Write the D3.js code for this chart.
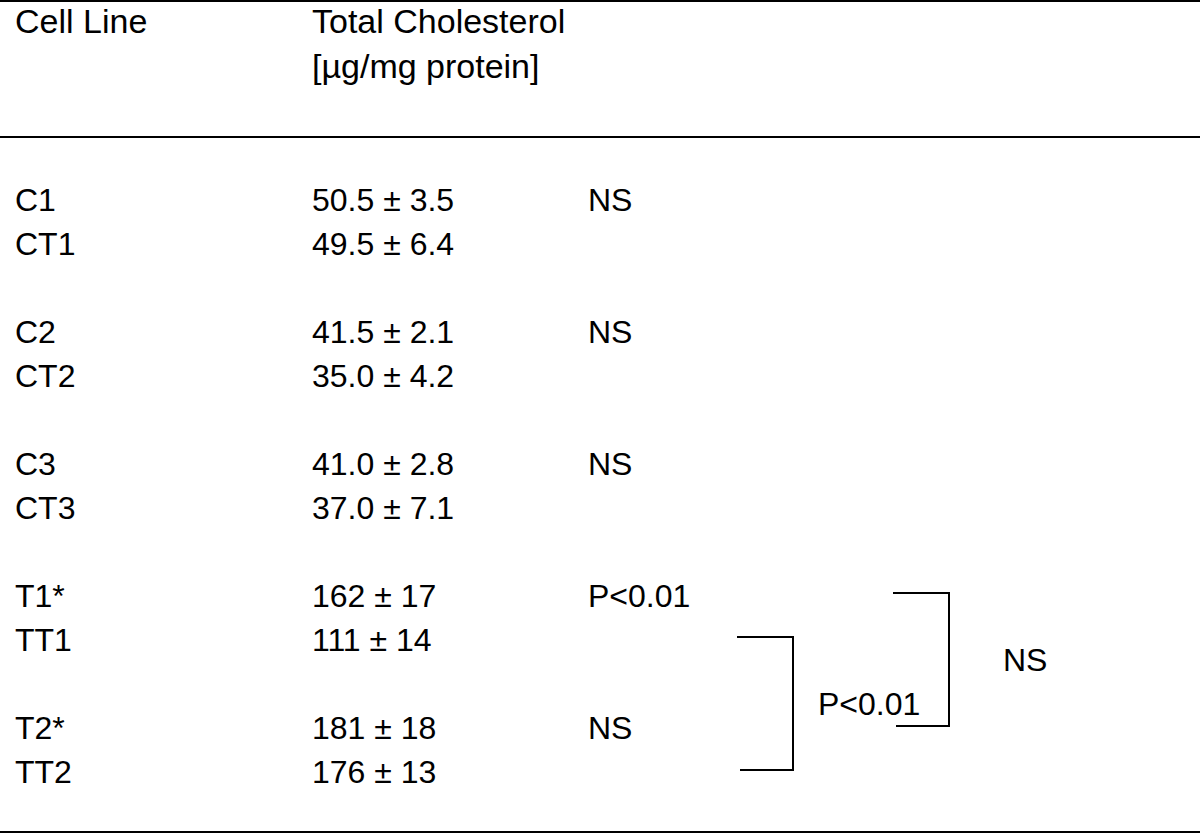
<!DOCTYPE html>
<html>
<head>
<meta charset="utf-8">
<script src="https://cdn.jsdelivr.net/npm/d3@7"></script>
<style>
  body { margin: 0; background: #fff; }
  text { font-family: "Liberation Sans", Arial, sans-serif; fill: #000; }
</style>
</head>
<body>
<div id="chart"></div>
<script>
const headers = ["Cell Line", "Total Cholesterol", "[µg/mg protein]"];
const cellLines = ["C1", "CT1", "C2", "CT2", "C3", "CT3", "T1*", "TT1", "T2*", "TT2"];
const means = ["50.5", "49.5", "41.5", "35.0", "41.0", "37.0", "162", "111", "181", "176"];
const sds = ["3.5", "6.4", "2.1", "4.2", "2.8", "7.1", "17", "14", "18", "13"];
// row slot of each line (blank slot between each pair)
const slots = [0, 1, 3, 4, 6, 7, 9, 10, 12, 13];
const pairNotes = ["NS", "NS", "NS", "P<0.01", "NS"];
const pairSlots = [0, 3, 6, 9, 12];
// comparisons across pairs: rows joined by a bracket
const compFrom = ["TT1", "T1*"];
const compTo = ["TT2", "T2*"];
const compLabels = ["P<0.01", "NS"];

const width = 1200;
const height = 834;
const fontSize = 32;
const headSize = 34;

const svg = d3.select("#chart")
  .append("svg")
  .attr("width", width)
  .attr("height", height)
  .attr("viewBox", [0, 0, width, height]);

const x = d3.scaleOrdinal()
  .domain(["line", "value", "note"])
  .range([15, 312, 588]);

const y = d3.scaleLinear()
  .domain([0, 13])
  .range([211, 783]);

// rules
const rules = [1, 137, 832];
svg.selectAll(".rule")
  .data(rules)
  .join("line")
  .attr("class", "rule")
  .attr("x1", 0)
  .attr("x2", width)
  .attr("y1", (d) => d)
  .attr("y2", (d) => d)
  .attr("stroke", "#000")
  .attr("stroke-width", 2);

// header
svg.append("text").attr("x", x("line")).attr("y", 33)
  .style("font-size", headSize + "px").text(headers[0]);
svg.append("text").attr("x", x("value")).attr("y", 33)
  .style("font-size", headSize + "px").text(headers[1]);
svg.append("text").attr("x", x("value")).attr("y", 78)
  .style("font-size", headSize + "px").text(headers[2]);

const rows = cellLines.map((d, i) => ({ name: d, mean: means[i], sd: sds[i], slot: slots[i] }));

svg.selectAll(".cell-line")
  .data(rows)
  .join("text")
  .attr("class", "cell-line")
  .attr("x", x("line"))
  .attr("y", (d) => y(d.slot))
  .style("font-size", fontSize + "px")
  .text((d) => d.name);

svg.selectAll(".value")
  .data(rows)
  .join("text")
  .attr("class", "value")
  .attr("x", x("value"))
  .attr("y", (d) => y(d.slot))
  .style("font-size", fontSize + "px")
  .text((d) => `${d.mean} ± ${d.sd}`);

svg.selectAll(".note")
  .data(pairNotes)
  .join("text")
  .attr("class", "note")
  .attr("x", x("note"))
  .attr("y", (d, i) => y(pairSlots[i]))
  .style("font-size", fontSize + "px")
  .text((d) => d);

// brackets
const slotOf = (name) => slots[cellLines.indexOf(name)];
const bracketX = [[737, 793], [893, 949]];
const labelX = [818, 1003];

compLabels.forEach((label, i) => {
  const y0 = y(slotOf(compFrom[i])) - 14;
  const y1 = y(slotOf(compTo[i])) - 13;
  const [xa, xb] = bracketX[i];
  const path = d3.path();
  path.moveTo(xa, y0);
  path.lineTo(xb, y0);
  path.lineTo(xb, y1);
  path.lineTo(xa + 3, y1);
  svg.append("path")
    .attr("d", path.toString())
    .attr("fill", "none")
    .attr("stroke", "#000")
    .attr("stroke-width", 2);
  svg.append("text")
    .attr("x", labelX[i])
    .attr("y", (y0 + y1) / 2 + 11)
    .style("font-size", fontSize + "px")
    .text(label);
});
</script>
</body>
</html>
